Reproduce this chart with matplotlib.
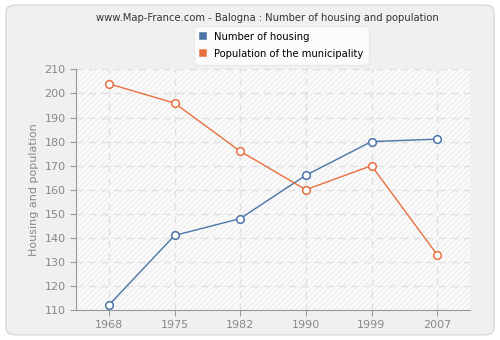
import matplotlib
matplotlib.use("Agg")
import matplotlib.pyplot as plt
from matplotlib.patches import FancyBboxPatch

years = ["1968", "1975", "1982", "1990", "1999", "2007"]
housing = [112, 141, 148, 166, 180, 181]
population = [204, 196, 176, 160, 170, 133]

c_house = "#4a74a8"
c_pop = "#e8703f"

fig = plt.figure(figsize=(5, 3.4), dpi=100)
fig.patch.set_facecolor("white")
# outer rounded panel
fig.patches.append(FancyBboxPatch((0.012, 0.015), 0.976, 0.97,
                                  boxstyle="round,pad=0,rounding_size=0.02",
                                  transform=fig.transFigure, facecolor="#f0f0f0",
                                  edgecolor="#d8d8d8", linewidth=1, zorder=-10))

ax = fig.add_axes([0.152, 0.088, 0.788, 0.708])
ax.set_facecolor("#fbfbfb")
ax.patch.set_hatch("//////")
ax.patch.set_edgecolor("#efefef")
ax.patch.set_linewidth(0)

x = range(len(years))
ax.plot(x, housing, "-o", color=c_house, lw=1, ms=5.5, mfc="white", mew=1.1,
        label="Number of housing", zorder=3)
ax.plot(x, population, "-o", color=c_pop, lw=1, ms=5.5, mfc="white", mew=1.1,
        label="Population of the municipality", zorder=3)

ax.set_xlim(-0.5, 5.5)
ax.set_ylim(110, 210)
ax.set_xticks(list(x))
ax.set_xticklabels(years)
ax.set_yticks(range(110, 211, 10))
ax.grid(True, color="#e0e0e0", linestyle=(0, (5, 4)), lw=1)
ax.set_axisbelow(True)
ax.tick_params(colors="#999999", labelcolor="#888888", labelsize=8, length=4)
for s in ["top", "right"]:
    ax.spines[s].set_visible(False)
for s in ["left", "bottom"]:
    ax.spines[s].set_color("#999999")
ax.set_ylabel("Housing and population", color="#888888", fontsize=8)

fig.text(0.534, 0.947, "www.Map-France.com - Balogna : Number of housing and population",
         ha="center", va="center", fontsize=7.2, color="#333333")

leg = fig.legend(loc="center", bbox_to_anchor=(0.563, 0.867), fontsize=7.2,
                 frameon=True, handlelength=0.6, handletextpad=0.8,
                 borderpad=0.6, labelspacing=0.7)
frame = leg.get_frame()
frame.set_facecolor("white")
frame.set_edgecolor("#e8e8e8")
frame.set_boxstyle("round,pad=0,rounding_size=0.5")
for h, c in zip(leg.legend_handles, [c_house, c_pop]):
    h.set_marker("s")
    h.set_markersize(4)
    h.set_markerfacecolor(c)
    h.set_markeredgecolor(c)
    h.set_linestyle("none")

fig.savefig("out.png", dpi=100)
